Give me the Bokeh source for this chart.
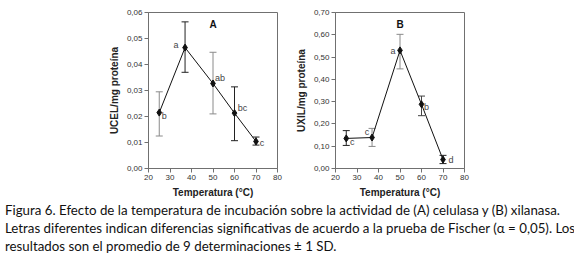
from bokeh.plotting import figure
from bokeh.models import (ColumnDataSource, Whisker, TeeHead, CustomJSTickFormatter,
                          Range1d, FixedTicker, Div, Label)
from bokeh.layouts import row, column
from bokeh.embed import file_html
from bokeh.resources import INLINE
from bokeh.core.properties import value

# ---------------- data ----------------
temps = [25, 37, 50, 60, 70]
cel_mean = [0.0215, 0.0465, 0.0327, 0.0213, 0.0104]
cel_low = [0.0125, 0.0370, 0.0210, 0.0107, 0.0090]
cel_high = [0.0295, 0.0564, 0.0447, 0.0314, 0.0121]
cel_letters = ["b", "a", "ab", "bc", "c"]

xil_mean = [0.135, 0.139, 0.530, 0.288, 0.040]
xil_low = [0.1035, 0.099, 0.447, 0.237, 0.022]
xil_high = [0.170, 0.180, 0.602, 0.325, 0.059]
xil_letters = ["c", "c", "a", "b", "d"]

x_ticks = [20, 30, 40, 50, 60, 70, 80]
cel_ticks = [0.0, 0.01, 0.02, 0.03, 0.04, 0.05, 0.06]
xil_ticks = [0.0, 0.1, 0.2, 0.3, 0.4, 0.5, 0.6, 0.7]

caption_lines = [
    "Figura 6. Efecto de la temperatura de incubación sobre la actividad de (A) celulasa y (B) xilanasa.",
    "Letras diferentes indican diferencias significativas de acuerdo a la prueba de Fischer (α = 0,05). Los",
    "resultados son el promedio de 9 determinaciones ± 1 SD.",
]

# ---------------- styles ----------------
cel_err_colors = ["#8a8a8a", "#222222", "#8a8a8a", "#222222", "#222222"]
xil_err_colors = ["#222222", "#8a8a8a", "#8a8a8a", "#444444", "#222222"]
cel_dx = [5, -9, 7, 8, 6]
cel_dy = [3, -3, -5, -5, 2]
xil_dx = [6, -5, -7, 5, 8]
xil_dy = [4, -6, 1, 3, 0]

AX = "#707070"
TXT = "#333333"


def make_panel(means, lows, highs, letters, ecolors, dx, dy, ticks, ymax, ylabel,
               tag, tag_y, width, border_left):
    p = figure(width=width, height=200, output_backend="svg", toolbar_location=None,
               x_range=Range1d(20, 80), y_range=Range1d(0, ymax),
               min_border_left=border_left, min_border_right=10,
               min_border_top=12, min_border_bottom=26)
    p.grid.visible = False
    p.outline_line_color = AX
    p.outline_line_width = 1
    p.background_fill_color = "white"
    p.border_fill_color = "white"

    p.xaxis.ticker = FixedTicker(ticks=x_ticks)
    p.yaxis.ticker = FixedTicker(ticks=ticks)
    p.yaxis.formatter = CustomJSTickFormatter(code="return tick.toFixed(2).replace('.', ',');")
    for ax in (p.xaxis[0], p.yaxis[0]):
        ax.axis_line_color = AX
        ax.major_tick_line_color = AX
        ax.major_tick_out = 4
        ax.major_tick_in = 0
        ax.minor_tick_line_color = None
        ax.major_label_text_font = "Liberation Sans"
        ax.major_label_text_font_size = "8px"
        ax.major_label_text_color = TXT
        ax.major_label_standoff = 2
        ax.axis_label_text_font = "Liberation Sans"
        ax.axis_label_text_font_size = "10px"
        ax.axis_label_text_font_style = "bold"
        ax.axis_label_text_color = "#222222"
        ax.axis_label_standoff = 4
    p.xaxis.axis_label = "Temperatura (°C)"
    p.yaxis.axis_label = ylabel

    # error bars, grouped by colour
    for col in sorted(set(ecolors)):
        idx = [i for i, c in enumerate(ecolors) if c == col]
        src = ColumnDataSource(dict(x=[temps[i] for i in idx],
                                    lo=[lows[i] for i in idx],
                                    hi=[highs[i] for i in idx]))
        w = Whisker(base="x", lower="lo", upper="hi", source=src,
                    line_color=col, line_width=1,
                    upper_head=TeeHead(size=7, line_color=col, line_width=1),
                    lower_head=TeeHead(size=7, line_color=col, line_width=1))
        p.add_layout(w)

    src = ColumnDataSource(dict(x=temps, y=means, t=letters, dx=dx, dy=dy))
    p.line("x", "y", source=src, line_color="#111111", line_width=1)
    p.scatter("x", "y", source=src, marker="diamond", size=7,
              fill_color="#111111", line_color="#111111")
    p.text("x", "y", text="t", source=src, x_offset="dx", y_offset="dy",
           text_align="center", text_baseline="middle",
           text_font=value("Liberation Sans"), text_font_size="9px", text_color="#444444")

    p.add_layout(Label(x=50, y=tag_y, text=tag, text_align="center",
                       text_baseline="middle", text_font="Liberation Sans",
                       text_font_size="10px", text_font_style="bold",
                       text_color="#111111"))
    return p


pA = make_panel(cel_mean, cel_low, cel_high, cel_letters, cel_err_colors, cel_dx, cel_dy,
                cel_ticks, 0.06, "UCEL/mg proteína", "A", 0.0552, 287, 148)
pB = make_panel(xil_mean, xil_low, xil_high, xil_letters, xil_err_colors, xil_dx, xil_dy,
                xil_ticks, 0.70, "UXIL/mg proteína", "B", 0.648, 187, 48)

cap = Div(text="<br>".join(caption_lines), width=569, height=56,
          margin=(1, 0, 0, 5),
          styles={"font-family": "Lato, sans-serif", "font-size": "13.3px",
                  "line-height": "18px", "color": "#111111", "white-space": "nowrap"})

layout = column(row(pA, pB, spacing=0), cap, spacing=0)
open("out.html", "w").write(file_html(layout, INLINE))
